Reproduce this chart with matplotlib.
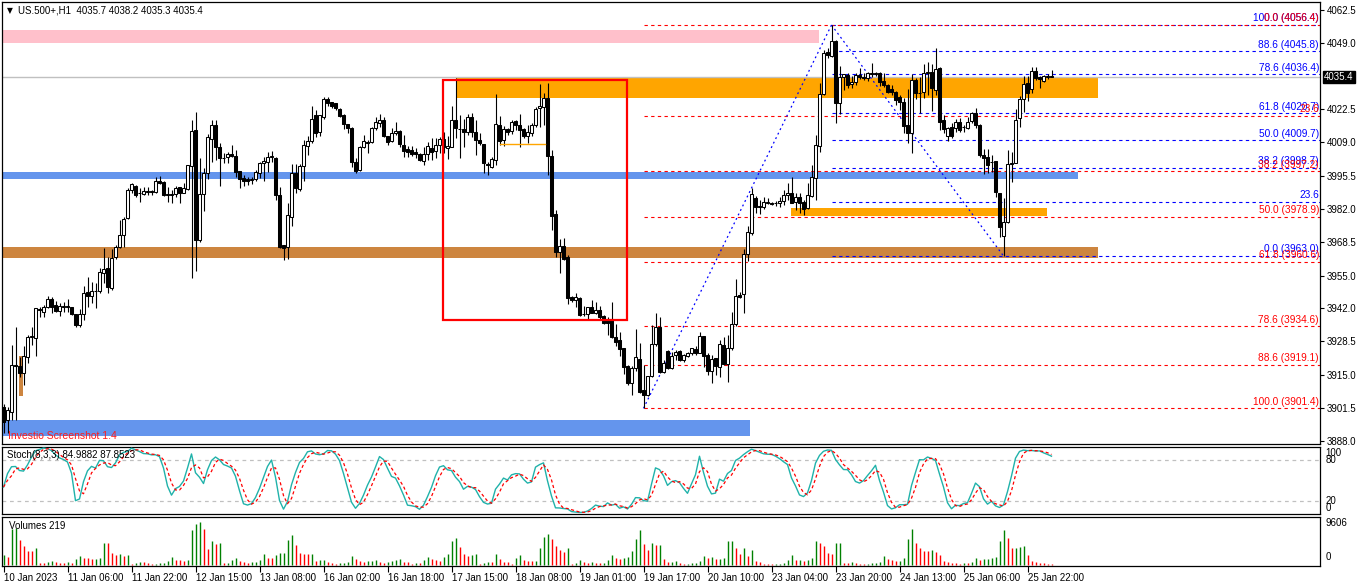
import numpy as np
import matplotlib
matplotlib.use("Agg")
import matplotlib.pyplot as plt
import matplotlib.transforms as mtrans
from matplotlib.patches import Rectangle

plt.rcParams['font.family'] = ['Liberation Sans', 'DejaVu Sans']

# ---------------- data ----------------
opens = [
 3902.1, 3896.7, 3900.1, 3918.9, 3918.5, 3915.6, 3922.0, 3930.4, 3929.7, 3941.4,
 3940.5, 3942.2, 3945.7, 3943.2, 3940.9, 3942.5, 3942.6, 3942.3, 3939.6, 3935.1,
 3939.6, 3948.6, 3946.8, 3948.8, 3948.8, 3956.2, 3958.0, 3950.0, 3962.4, 3966.8,
 3971.5, 3978.2, 3989.7, 3991.3, 3988.6, 3988.0, 3989.0, 3989.1, 3989.0, 3993.3,
 3993.1, 3987.9, 3987.8, 3987.9, 3990.9, 3988.6, 3990.0, 3999.4, 4014.0, 3969.5,
 3988.1, 3996.7, 4010.4, 4016.0, 4006.9, 4002.5, 4002.9, 4004.1, 4003.4, 3997.4,
 3994.4, 3994.0, 3993.9, 3994.1, 3996.4, 4000.5, 4000.8, 4002.9, 4002.5, 3987.7,
 3967.4, 3966.5, 3978.9, 3996.4, 3990.0, 3999.4, 4007.5, 4009.3, 4020.0, 4013.3,
 4019.3, 4026.3, 4025.3, 4024.7, 4022.4, 4020.0, 4016.2, 4014.6, 4000.9, 3997.8,
 4007.2, 4009.2, 4009.2, 4014.6, 4016.9, 4018.0, 4011.5, 4009.6, 4012.6, 4013.7,
 4007.9, 4006.1, 4005.9, 4004.9, 4004.2, 4001.5, 4004.2, 4006.5, 4005.6, 4007.9,
 4010.2, 4006.5, 4007.2, 4018.0, 4014.2, 4014.5, 4013.3, 4019.0, 4013.3, 4009.9,
 4008.3, 4000.0, 3999.1, 4001.8, 4015.8, 4009.9, 4014.5, 4013.7, 4017.6, 4016.0,
 4014.2, 4011.5, 4012.9, 4016.0, 4022.7, 4023.4, 4026.7, 4003.4, 3980.0, 3964.8,
 3967.1, 3962.7, 3946.3, 3945.0, 3945.9, 3939.6, 3939.6, 3942.3, 3940.1, 3941.2,
 3938.8, 3937.1, 3937.4, 3930.4, 3929.0, 3925.7, 3918.5, 3911.8, 3917.6, 3921.2,
 3908.8, 3906.8, 3914.5, 3927.4, 3934.1, 3916.2, 3924.7, 3917.6, 3922.9, 3924.7,
 3920.9, 3922.5, 3923.9, 3925.3, 3923.9, 3930.6, 3922.9, 3916.6, 3921.6, 3918.2,
 3927.0, 3919.3, 3925.7, 3935.5, 3947.1, 3947.6, 3963.8, 3972.4, 3986.3, 3983.2,
 3983.0, 3984.6, 3984.6, 3984.3, 3984.5, 3985.4, 3987.7, 3988.6, 3985.0, 3986.7,
 3984.9, 3982.3, 3987.3, 3994.4, 4007.5, 4028.5, 4045.6, 4043.9, 4050.1, 4025.0,
 4035.2, 4036.2, 4032.5, 4033.5, 4036.2, 4035.2, 4034.8, 4036.9, 4036.6, 4036.9,
 4033.8, 4032.1, 4030.4, 4029.4, 4027.2, 4025.4, 4016.0, 4012.6, 4034.2, 4029.0,
 4029.4, 4036.9, 4037.5, 4030.1, 4038.9, 4018.0, 4011.5, 4015.0, 4014.6, 4017.3,
 4015.0, 4014.6, 4017.7, 4020.7, 4016.0, 4003.8, 4003.2, 4001.1, 4001.5, 3988.6,
 3971.1, 3976.9, 4000.2, 4000.5, 4018.6, 4026.3, 4033.1, 4030.4, 4037.9, 4035.5,
 4033.9, 4035.5, 4035.7]

highs = [
 3903.0, 3902.0, 3927.0, 3934.4, 3922.0, 3926.6, 3931.0, 3934.4, 3942.0, 3942.5,
 3943.2, 3946.8, 3946.3, 3944.9, 3943.9, 3944.5, 3945.5, 3942.5, 3939.6, 3941.4,
 3950.9, 3954.6, 3952.6, 3952.2, 3958.0, 3966.1, 3962.7, 3966.0, 3967.4, 3977.6,
 3978.9, 3990.4, 3992.4, 3991.7, 3990.4, 3990.8, 3990.8, 3989.8, 3994.8, 3995.3,
 3993.5, 3991.0, 3989.7, 3991.3, 3991.0, 3992.4, 3999.8, 4018.0, 4021.4, 4002.5,
 3998.5, 4012.3, 4018.0, 4018.0, 4008.6, 4004.5, 4005.2, 4007.9, 4005.9, 3997.4,
 3995.8, 3995.1, 3995.0, 3997.8, 4001.2, 4003.2, 4005.2, 4005.6, 4003.0, 3991.0,
 3967.4, 3984.3, 4000.2, 4000.2, 4000.2, 4009.9, 4011.5, 4023.7, 4022.0, 4020.0,
 4027.2, 4027.2, 4025.3, 4025.0, 4022.7, 4020.3, 4016.2, 4015.3, 4002.5, 4007.5,
 4011.9, 4009.9, 4015.3, 4019.3, 4020.4, 4019.0, 4011.5, 4014.6, 4017.3, 4014.0,
 4011.9, 4007.5, 4007.5, 4006.5, 4004.8, 4007.2, 4009.2, 4010.6, 4010.6, 4011.0,
 4013.3, 4011.5, 4023.7, 4034.8, 4020.0, 4018.3, 4020.4, 4021.0, 4018.0, 4012.6,
 4008.3, 4001.2, 4003.2, 4028.5, 4019.6, 4015.6, 4014.9, 4018.0, 4018.0, 4020.4,
 4014.6, 4016.0, 4016.9, 4023.4, 4032.5, 4029.0, 4033.1, 4005.9, 3981.6, 3969.8,
 3970.1, 3963.4, 3946.8, 3948.0, 3946.3, 3942.8, 3942.5, 3945.2, 3944.5, 3942.8,
 3939.2, 3938.5, 3944.5, 3935.5, 3932.4, 3925.7, 3918.9, 3918.5, 3933.4, 3927.9,
 3919.0, 3914.5, 3935.1, 3940.0, 3938.5, 3920.9, 3925.0, 3924.3, 3925.0, 3925.0,
 3923.4, 3924.3, 3925.7, 3926.6, 3932.4, 3930.6, 3923.9, 3922.9, 3921.6, 3929.0,
 3930.1, 3931.0, 3940.5, 3953.6, 3948.5, 3965.7, 3975.1, 3990.3, 3987.3, 3985.6,
 3986.7, 3986.3, 3985.0, 3985.3, 3987.0, 3989.7, 3992.4, 3995.1, 3988.3, 3988.3,
 3985.6, 3992.6, 3999.8, 4011.9, 4032.8, 4046.3, 4047.0, 4056.4, 4050.3, 4039.8,
 4036.6, 4037.1, 4035.8, 4037.1, 4038.9, 4036.9, 4037.5, 4040.9, 4037.5, 4037.5,
 4036.9, 4032.5, 4032.1, 4029.8, 4028.1, 4026.7, 4030.4, 4036.6, 4034.8, 4035.5,
 4040.6, 4041.6, 4040.6, 4046.9, 4039.3, 4020.0, 4015.3, 4016.6, 4018.3, 4018.7,
 4016.0, 4019.3, 4021.4, 4022.7, 4016.4, 4006.1, 4006.1, 4003.8, 4001.5, 3988.6,
 3986.3, 4005.9, 4005.2, 4022.3, 4027.7, 4035.8, 4035.8, 4039.3, 4039.3, 4035.8,
 4036.2, 4036.6, 4038.2]

lows = [
 3891.3, 3891.3, 3896.7, 3896.7, 3914.0, 3911.0, 3919.6, 3927.0, 3922.6, 3938.5,
 3938.5, 3941.8, 3940.0, 3940.5, 3938.8, 3940.5, 3940.5, 3939.2, 3934.2, 3934.4,
 3937.1, 3942.5, 3943.9, 3941.8, 3947.9, 3952.2, 3948.2, 3949.3, 3961.6, 3966.1,
 3966.8, 3977.8, 3988.3, 3987.0, 3985.0, 3987.7, 3987.7, 3987.7, 3988.6, 3992.1,
 3987.3, 3985.0, 3984.6, 3987.0, 3984.6, 3988.3, 3989.7, 3954.0, 3957.0, 3968.8,
 3981.0, 3994.0, 4001.0, 4001.8, 3991.3, 4000.5, 4000.5, 4003.0, 3995.1, 3990.4,
 3991.3, 3991.7, 3992.0, 3993.5, 3994.4, 3993.3, 3997.1, 4000.8, 3985.6, 3966.1,
 3961.4, 3961.6, 3975.3, 3988.3, 3989.4, 3993.5, 4003.8, 4008.6, 4011.0, 4011.5,
 4018.3, 4023.7, 4022.7, 4022.0, 4019.3, 4014.2, 4012.9, 3998.9, 3996.4, 3997.4,
 4006.5, 4004.5, 4008.8, 4014.0, 4015.3, 4011.3, 4007.9, 4009.2, 4011.9, 4006.9,
 4002.9, 4003.2, 4003.4, 4002.5, 4001.5, 3999.8, 4001.8, 4001.8, 4002.5, 4004.5,
 4004.5, 4002.1, 4006.9, 4010.6, 4002.5, 4006.9, 4011.9, 4011.3, 4003.8, 4007.9,
 3996.7, 3995.8, 3998.4, 3999.8, 4007.9, 4007.5, 4011.9, 4012.3, 4013.9, 4007.2,
 4010.6, 4008.6, 4011.5, 4015.0, 4015.3, 4016.0, 3995.8, 3973.5, 3962.7, 3956.3,
 3961.4, 3943.6, 3944.5, 3942.5, 3938.8, 3938.8, 3937.1, 3939.8, 3939.6, 3937.4,
 3935.5, 3931.1, 3929.7, 3926.6, 3922.6, 3915.3, 3910.8, 3906.8, 3916.6, 3907.5,
 3901.4, 3906.4, 3914.0, 3926.6, 3915.5, 3915.5, 3917.2, 3917.2, 3920.9, 3920.7,
 3920.3, 3922.3, 3922.9, 3922.9, 3923.6, 3918.2, 3914.8, 3911.5, 3914.8, 3914.2,
 3918.9, 3912.2, 3925.0, 3934.7, 3946.0, 3939.8, 3961.1, 3971.5, 3980.3, 3980.0,
 3981.9, 3984.0, 3983.6, 3983.3, 3983.0, 3983.6, 3985.6, 3984.3, 3981.6, 3980.3,
 3979.6, 3981.9, 3987.0, 3985.6, 4005.2, 4028.1, 4042.9, 4043.3, 4016.6, 4020.4,
 4030.1, 4030.8, 4030.8, 4032.1, 4034.4, 4034.2, 4033.9, 4035.5, 4035.8, 4031.7,
 4031.4, 4028.8, 4028.1, 4024.1, 4022.0, 4012.6, 4008.5, 4004.8, 4026.3, 4020.9,
 4026.7, 4028.1, 4021.8, 4028.1, 4013.9, 4012.6, 4009.6, 4010.6, 4013.3, 4013.3,
 4013.3, 4014.2, 4016.6, 4014.6, 4003.2, 3996.1, 3996.4, 3997.1, 3987.0, 3970.8,
 3963.0, 3976.2, 3993.0, 4000.5, 4015.0, 4021.4, 4025.8, 4029.0, 4034.2, 4030.8,
 4033.5, 4034.4, 4035.3]

closes = [
 3896.0, 3900.7, 3918.9, 3918.5, 3915.6, 3922.6, 3930.4, 3930.8, 3941.8, 3941.2,
 3942.5, 3945.5, 3942.5, 3940.9, 3942.8, 3942.6, 3942.3, 3939.6, 3935.1, 3939.6,
 3947.9, 3946.8, 3948.8, 3948.9, 3956.6, 3957.6, 3950.3, 3962.0, 3966.8, 3971.5,
 3977.8, 3989.7, 3992.1, 3987.7, 3988.5, 3989.4, 3989.1, 3989.0, 3993.5, 3992.4,
 3987.7, 3987.8, 3987.9, 3990.5, 3988.6, 3990.5, 3999.8, 4013.5, 3969.5, 3988.1,
 3996.4, 4011.0, 4016.0, 4007.0, 4002.5, 4002.6, 4004.2, 4003.4, 3997.1, 3994.0,
 3993.5, 3993.5, 3994.0, 3996.8, 4000.5, 4001.4, 4003.2, 4003.4, 3987.7, 3966.8,
 3966.1, 3979.6, 3996.4, 3990.4, 3999.4, 4007.9, 4009.5, 4018.3, 4012.9, 4020.0,
 4026.5, 4025.0, 4023.8, 4022.7, 4019.7, 4016.2, 4014.9, 4000.9, 3997.4, 4007.2,
 4009.5, 4008.6, 4014.6, 4017.3, 4018.0, 4011.5, 4009.2, 4012.9, 4013.7, 4008.3,
 4005.6, 4005.2, 4004.2, 4004.2, 4001.8, 4004.1, 4007.5, 4005.2, 4007.9, 4010.2,
 4006.9, 4007.5, 4018.0, 4014.6, 4014.3, 4013.3, 4019.0, 4013.3, 4009.9, 4008.8,
 4000.5, 3999.9, 4002.1, 4016.2, 4009.6, 4014.2, 4013.3, 4017.2, 4016.0, 4014.0,
 4011.5, 4013.1, 4016.0, 4022.3, 4023.6, 4026.7, 4003.4, 3979.2, 3964.8, 3967.1,
 3961.7, 3945.9, 3945.2, 3946.3, 3939.2, 3939.5, 3942.3, 3940.1, 3941.2, 3938.2,
 3935.8, 3936.1, 3930.1, 3928.4, 3925.3, 3918.3, 3911.5, 3917.6, 3922.0, 3908.1,
 3906.8, 3914.5, 3927.4, 3934.1, 3916.2, 3919.9, 3917.6, 3922.5, 3924.3, 3920.9,
 3922.9, 3923.9, 3925.7, 3923.6, 3930.6, 3922.5, 3916.6, 3921.2, 3918.5, 3927.4,
 3919.3, 3925.7, 3935.5, 3946.8, 3946.6, 3963.8, 3972.8, 3988.1, 3983.0, 3982.7,
 3985.0, 3984.7, 3983.9, 3984.5, 3985.4, 3987.7, 3988.6, 3984.6, 3986.7, 3984.3,
 3981.9, 3987.7, 3994.8, 4007.9, 4028.5, 4044.9, 4044.3, 4050.1, 4024.7, 4035.2,
 4036.6, 4032.1, 4033.5, 4036.2, 4035.2, 4034.8, 4036.9, 4036.6, 4037.1, 4033.5,
 4032.1, 4029.4, 4029.4, 4026.1, 4025.4, 4015.6, 4012.6, 4034.2, 4029.0, 4028.8,
 4036.9, 4037.5, 4030.8, 4038.5, 4017.3, 4014.2, 4014.6, 4011.5, 4017.3, 4013.9,
 4015.1, 4017.3, 4020.7, 4016.0, 4003.8, 4002.5, 3999.8, 4001.2, 3989.0, 3974.8,
 3976.9, 4000.2, 4000.6, 4018.0, 4026.3, 4032.5, 4029.0, 4037.9, 4034.8, 4034.4,
 4035.8, 4035.6, 4035.4]

volumes = [
 2268, 1890, 8089, 8240, 5670, 4309, 3175, 3100, 3856, 454,
 378, 680, 907, 680, 454, 378, 680, 454, 1361, 2041,
 1588, 1512, 1361, 1436, 1588, 4990, 4914, 2722, 2268, 2495,
 2041, 2268, 227, 454, 680, 605, 454, 227, 302, 454,
 529, 907, 1814, 1134, 1058, 907, 1134, 7711, 9072, 9606,
 7938, 3629, 5443, 4763, 4838, 454, 529, 1134, 1588, 907,
 680, 454, 680, 756, 1134, 2495, 1588, 1512, 2268, 2722,
 2797, 5670, 6804, 4536, 2722, 2495, 2419, 2570, 907, 1134,
 1210, 680, 454, 227, 454, 529, 680, 2041, 1361, 907,
 680, 907, 983, 1058, 605, 454, 680, 907, 1134, 1361,
 680, 605, 227, 454, 378, 1134, 1814, 1361, 1134, 907,
 1814, 2495, 5443, 6124, 4082, 2495, 2041, 2268, 2495, 227,
 454, 680, 605, 2495, 1361, 680, 605, 227, 1588, 2268,
 1134, 907, 848, 1002, 3701, 6245, 6939, 5783, 4163, 3470,
 3007, 3701, 231, 463, 1157, 694, 463, 694, 463, 386,
 540, 1157, 2313, 1619, 1388, 1619, 1696, 3238, 5783, 7864,
 4626, 3470, 4857, 4395, 4472, 1388, 694, 771, 925, 463,
 231, 308, 386, 463, 925, 2082, 1619, 1850, 1388, 1465,
 1619, 5320, 5397, 3701, 2544, 3701, 2082, 3470, 925, 694,
 231, 193, 154, 231, 308, 463, 1157, 2313, 1157, 1234,
 925, 1157, 1619, 5320, 4857, 4163, 2776, 2544, 4857, 4934,
 463, 386, 694, 463, 231, 154, 308, 386, 463, 694,
 2082, 1388, 1157, 925, 1002, 1619, 5783, 8096, 4857, 3701,
 3238, 3161, 3315, 3007, 2313, 925, 694, 463, 386, 308,
 463, 386, 694, 1619, 1157, 1388, 1465, 1619, 1696, 5320,
 7864, 6014, 3701, 3778, 3932, 4163, 2313, 925, 694, 463,
 386, 231, 219]

tick_bars = [0, 16, 32, 48, 64, 80, 96, 112, 128, 144, 160, 176, 192, 208, 224, 240, 256]
tick_labels = ["10 Jan 2023", "11 Jan 06:00", "11 Jan 22:00", "12 Jan 15:00", "13 Jan 08:00",
               "16 Jan 02:00", "16 Jan 18:00", "17 Jan 15:00", "18 Jan 08:00", "19 Jan 01:00",
               "19 Jan 17:00", "20 Jan 10:00", "23 Jan 04:00", "23 Jan 20:00", "24 Jan 13:00",
               "25 Jan 06:00", "25 Jan 22:00"]
price_ticks = [4062.5, 4049.0, 4022.5, 4009.0, 3995.5, 3982.0, 3968.5, 3955.0,
               3942.0, 3928.5, 3915.0, 3901.5, 3888.0]
last_price = 4035.4
header = "US.500+,H1  4035.7 4038.2 4035.3 4035.4"

fib_levels = [0.0, 23.6, 38.2, 50.0, 61.8, 78.6, 88.6, 100.0]
fib_red_prices = [4056.4, 4019.8, 3997.2, 3978.9, 3960.6, 3934.6, 3919.1, 3901.4]
fib_blue_prices = [3963.0, 3985.0, 3998.7, 4009.7, 4020.7, 4036.4, 4045.8, 4056.4]
fib_red_anchor = (160, 207)    # bars of the swing low and swing high
fib_blue_anchor = (207, 250)   # bars of the swing high and swing low

# zones: bar_start, bar_end, price_low, price_high, colour
zones = [
    (-1.0, 203.9, 4049.1, 4054.4, "#FFC0CB"),
    (113.1, 273.6, 4027.0, 4034.85, "#FFA500"),
    (-1.0, 268.6, 3994.2, 3996.8, "#6495ED"),
    (-1.0, 273.6, 3962.3, 3966.5, "#CD853F"),
    (-1.0, 186.6, 3890.3, 3896.7, "#6495ED"),
    (196.9, 260.9, 3979.2, 3982.5, "#FFA500"),
    (3.95, 4.95, 3906.4, 3922.6, "#CD853F"),
]
red_box = (109.8, 155.95, 3937.1, 4034.2)
orange_line = (124.1, 135.4, 4008.2)

stoch_label = "Stoch(8,3,3) 84.9882 87.8523"
volume_label = "Volumes 219"

# ---------------- figure ----------------
W, H = 1362, 585
fig = plt.figure(figsize=(W / 100, H / 100), dpi=100)
fig.patch.set_facecolor("white")


def box(top, bottom, left=2, right=1320):
    return [left / W, 1 - bottom / H, (right - left) / W, (bottom - top) / H]


ax = fig.add_axes(box(2, 444))
axs = fig.add_axes(box(447, 514))
axv = fig.add_axes(box(517, 566))

x0, x1 = -0.375, (1320 - 3.5) / 4
for a in (ax, axs, axv):
    a.set_xlim(x0, x1)
    a.set_facecolor("white")
    for s in a.spines.values():
        s.set_linewidth(0.9)
        s.set_color("black")
    a.tick_params(axis="x", bottom=False, labelbottom=False)

o = np.array(opens)
h = np.array(highs)
l = np.array(lows)
c = np.array(closes)
n = len(c)
xs = np.arange(n)

# ---- main panel ----
ax.set_ylim(3886.97, 4065.7)
for (b0, b1, p0, p1, col) in zones:
    ax.add_patch(Rectangle((b0, p0), b1 - b0, p1 - p0, facecolor=col, edgecolor="none", zorder=1))

ax.axhline(last_price, color="#C0C0C0", lw=1.0, zorder=1.5)

fib_ls = (0, (3, 3))
for lvl, p in zip(fib_levels, fib_blue_prices):
    ax.plot([fib_blue_anchor[0], x1], [p, p], color="#0000FF", lw=0.8, ls=fib_ls, zorder=2)
for lvl, p in zip(fib_levels, fib_red_prices):
    ax.plot([fib_red_anchor[0], x1], [p, p], color="#FF0000", lw=0.8, ls=fib_ls, zorder=2)

ax.plot([fib_red_anchor[0], fib_red_anchor[1]], [fib_red_prices[-1], fib_red_prices[0]],
        color="#0000FF", lw=0.9, ls=(0, (1.5, 2.5)), zorder=2)
ax.plot([fib_blue_anchor[0], fib_blue_anchor[1]], [fib_blue_prices[-1], fib_blue_prices[0]],
        color="#0000FF", lw=0.9, ls=(0, (1.5, 2.5)), zorder=2)

up = c >= o
ax.vlines(xs, l, h, color="black", lw=0.8, zorder=3)
blo = np.minimum(o, c)
bh = np.abs(c - o)
ax.bar(xs[up], bh[up], bottom=blo[up], width=0.55, color="white", edgecolor="black",
       linewidth=0.75, zorder=4)
ax.bar(xs[~up], bh[~up], bottom=blo[~up], width=0.55, color="black", edgecolor="black",
       linewidth=0.75, zorder=4)

ax.add_patch(Rectangle((red_box[0], red_box[2]), red_box[1] - red_box[0], red_box[3] - red_box[2],
                       facecolor="none", edgecolor="#FF0000", lw=1.6, zorder=5))
ax.plot([orange_line[0], orange_line[1]], [orange_line[2]] * 2, color="#FFA500", lw=1.0, zorder=5)

trans_r = mtrans.blended_transform_factory(ax.transAxes, ax.transData)
off = mtrans.offset_copy(trans_r, fig=fig, x=-1, y=1.5, units="dots")


def fib_text(lvl, p):
    if abs(lvl - 23.6) < 1e-6:
        return "23.6"
    return f"{lvl:.1f} ({p:.1f})"


for lvl, p in zip(fib_levels, fib_blue_prices):
    ax.text(1.0, p, fib_text(lvl, p), transform=off, ha="right", va="bottom",
            color="#0000FF", fontsize=7.3, zorder=6)
for lvl, p in zip(fib_levels, fib_red_prices):
    ax.text(1.0, p, fib_text(lvl, p), transform=off, ha="right", va="bottom",
            color="#FF0000", fontsize=7.3, zorder=6)

ax.yaxis.tick_right()
ax.set_yticks(price_ticks)
ax.set_yticklabels([f"{v:.1f}" for v in price_ticks])
ax.tick_params(axis="y", right=True, left=False, length=3, width=0.8, pad=2,
               labelsize=7, colors="black")
ax.text(1.0, last_price, f"{last_price:.1f}",
        transform=mtrans.offset_copy(trans_r, fig=fig, x=4, y=0, units="dots"),
        ha="left", va="center", color="white", fontsize=7, zorder=7,
        bbox=dict(boxstyle="square,pad=0.12", facecolor="black", edgecolor="black"))

# ---- stochastic (8,3,3) from the candles ----
hh = np.array([h[max(0, i - 7):i + 1].max() for i in range(n)])
ll = np.array([l[max(0, i - 7):i + 1].min() for i in range(n)])
num = c - ll
den = hh - ll
k = np.array([100 * num[max(0, i - 2):i + 1].sum() / max(den[max(0, i - 2):i + 1].sum(), 1e-9)
              for i in range(n)])
d = np.array([k[max(0, i - 2):i + 1].mean() for i in range(n)])

axs.set_ylim(0, 100)
axs.axhline(80, color="#C0C0C0", lw=0.9, ls=(0, (3, 3)))
axs.axhline(20, color="#C0C0C0", lw=0.9, ls=(0, (3, 3)))
axs.plot(xs, k, color="#20B2AA", lw=1.0, zorder=3)
axs.plot(xs, d, color="#FF0000", lw=0.9, ls=(0, (2.5, 2)), zorder=3)
axs.set_yticks([])
trans_s = mtrans.blended_transform_factory(axs.transAxes, axs.transData)
for val, pos in ((100, 91), (80, 80), (20, 20), (0, 9)):
    axs.text(1.004, pos, str(val), transform=trans_s, ha="left", va="center", fontsize=7)
axs.text(0.004, 0.88, stoch_label, transform=axs.transAxes, ha="left", va="center", fontsize=7)

# ---- volumes ----
v = np.array(volumes, dtype=float)
vcol = ["#008000" if (i == 0 or v[i] > v[i - 1]) else "#FF0000" for i in range(n)]
axv.set_ylim(-200, 10700)
axv.vlines(xs, 0, v, colors=vcol, lw=1.0)
axv.set_yticks([])
trans_v = mtrans.blended_transform_factory(axv.transAxes, axv.transData)
axv.text(1.004, 9340, "9606", transform=trans_v, ha="left", va="center", fontsize=7)
axv.text(1.004, 1780, "0", transform=trans_v, ha="left", va="center", fontsize=7)
axv.text(0.005, 0.82, volume_label, transform=axv.transAxes, ha="left", va="center", fontsize=7)

axv.set_xticks(tick_bars)
axv.set_xticklabels(tick_labels, ha="left")
axv.tick_params(axis="x", bottom=True, labelbottom=True, length=4, width=0.8, pad=1.0,
                labelsize=7, direction="out")

# ---- header and watermark ----
fig.text(7 / W, 1 - 10.5 / H, "\u25BC", fontsize=5.5, family="DejaVu Sans", va="center", ha="left")
fig.text(18 / W, 1 - 10.5 / H, header, fontsize=7, va="center", ha="left")
fig.text(8 / W, 1 - 436 / H, "Investio Screenshot 1.4", fontsize=7.5, color="#FF1A1A",
         va="center", ha="left")

fig.savefig("out.png", dpi=100)
